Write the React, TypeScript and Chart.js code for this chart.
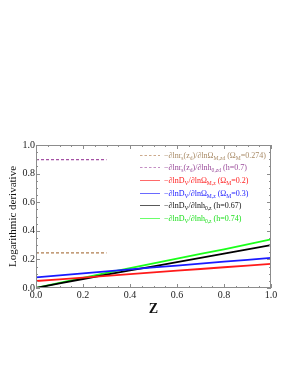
import React, { useEffect, useRef } from "react";
import { Chart, registerables } from "chart.js";

Chart.register(...registerables);

// ---- data ----
const zGrid = [0, 0.1, 0.2, 0.3, 0.4, 0.5, 0.6, 0.7, 0.8, 0.9, 1.0];
const dvOmega02 = [0.049, 0.061, 0.073, 0.085, 0.097, 0.109, 0.121, 0.133, 0.145, 0.157, 0.169];
const dvOmega03 = [0.074, 0.088, 0.102, 0.116, 0.13, 0.144, 0.157, 0.171, 0.184, 0.197, 0.21];
const dvH067 = [0.0, 0.032, 0.063, 0.093, 0.123, 0.152, 0.181, 0.21, 0.24, 0.27, 0.3];
const dvH074 = [0.0, 0.036, 0.071, 0.105, 0.139, 0.172, 0.205, 0.238, 0.27, 0.305, 0.34];
const zShort = [0, 0.3];
const rsOmega = [0.246, 0.246];
const rsH = [0.898, 0.898];

const xTicks = [0, 0.2, 0.4, 0.6, 0.8, 1.0];
const yTicks = [0, 0.2, 0.4, 0.6, 0.8, 1.0];

const COLORS = {
  rsOmega: "#b07d4f",
  rsH: "#a552a5",
  red: "#ff1a1a",
  blue: "#1a1aff",
  black: "#000000",
  green: "#1aff1a",
};
const TEXT_COLORS = ["#a88a66", "#9a4a9a", "#ff2020", "#2020ff", "#111111", "#20e020"];

type Seg = { t: string; sub?: boolean };
const legendLabels: Seg[][] = [
  [{ t: "−∂lnr" }, { t: "s", sub: true }, { t: "(z" }, { t: "d", sub: true }, { t: ")/∂lnΩ" }, { t: "M,zd", sub: true }, { t: " (Ω" }, { t: "M", sub: true }, { t: "=0.274)" }],
  [{ t: "−∂lnr" }, { t: "s", sub: true }, { t: "(z" }, { t: "d", sub: true }, { t: ")/∂lnh" }, { t: "0,zd", sub: true }, { t: " (h=0.7)" }],
  [{ t: "−∂lnD" }, { t: "V", sub: true }, { t: "/∂lnΩ" }, { t: "M,z", sub: true }, { t: " (Ω" }, { t: "M", sub: true }, { t: "=0.2)" }],
  [{ t: "−∂lnD" }, { t: "V", sub: true }, { t: "/∂lnΩ" }, { t: "M,z", sub: true }, { t: " (Ω" }, { t: "M", sub: true }, { t: "=0.3)" }],
  [{ t: "−∂lnD" }, { t: "V", sub: true }, { t: "/∂lnh" }, { t: "0,z", sub: true }, { t: " (h=0.67)" }],
  [{ t: "−∂lnD" }, { t: "V", sub: true }, { t: "/∂lnh" }, { t: "0,z", sub: true }, { t: " (h=0.74)" }],
];
const legendColors = [COLORS.rsOmega, COLORS.rsH, COLORS.red, COLORS.blue, COLORS.black, COLORS.green];
const legendDashed = [true, true, false, false, false, false];

const SERIF = "'Liberation Serif', 'DejaVu Serif', serif";

const pts = (xs: number[], ys: number[]) => xs.map((x, i) => ({ x, y: ys[i] }));

const framePlugin = {
  id: "frameTicks",
  afterDatasetsDraw(chart: any) {
    const { ctx, chartArea: a, scales } = chart;
    const xs = scales.x;
    const ys = scales.y;
    ctx.save();
    ctx.strokeStyle = "#8c8c8c";
    ctx.lineWidth = 1;
    ctx.strokeRect(a.left + 0.5, a.top + 0.5, a.right - a.left - 1, a.bottom - a.top - 1);
    ctx.beginPath();
    for (let i = 0; i <= 20; i++) {
      const v = i * 0.05;
      const major = i % 4 === 0;
      const len = major ? 4 : 2;
      const px = Math.round(xs.getPixelForValue(v)) + 0.5;
      ctx.moveTo(px, a.bottom);
      ctx.lineTo(px, a.bottom - len);
      ctx.moveTo(px, a.top);
      ctx.lineTo(px, a.top + len);
      const py = Math.round(ys.getPixelForValue(v)) + 0.5;
      ctx.moveTo(a.left, py);
      ctx.lineTo(a.left + len, py);
      ctx.moveTo(a.right, py);
      ctx.lineTo(a.right - len, py);
    }
    ctx.stroke();
    ctx.restore();
  },
};

const legendPlugin = {
  id: "richLegend",
  afterDraw(chart: any) {
    const { ctx, chartArea: a } = chart;
    const x0 = a.left + 104;
    const x1 = a.left + 124;
    const tx = a.left + 128;
    const y0 = a.top + 9.5;
    const step = 12.7;
    const size = 8;
    const subSize = 5.6;
    ctx.save();
    legendLabels.forEach((segs, i) => {
      const y = y0 + i * step;
      ctx.beginPath();
      ctx.globalAlpha = 0.65;
      ctx.strokeStyle = legendColors[i];
      ctx.lineWidth = 1;
      ctx.setLineDash(legendDashed[i] ? [2.5, 2] : []);
      ctx.moveTo(x0, Math.round(y) + 0.5);
      ctx.lineTo(x1, Math.round(y) + 0.5);
      ctx.stroke();
      ctx.setLineDash([]);
      ctx.globalAlpha = 1;
      let x = tx;
      ctx.fillStyle = TEXT_COLORS[i];
      ctx.textBaseline = "alphabetic";
      ctx.textAlign = "left";
      segs.forEach((s) => {
        ctx.font = `${s.sub ? subSize : size}px ${SERIF}`;
        const yy = y + 3 + (s.sub ? 2 : 0);
        ctx.fillText(s.t, x, yy);
        x += ctx.measureText(s.t).width;
      });
    });
    ctx.restore();
  },
};

export default function App() {
  const ref = useRef<HTMLCanvasElement>(null);
  useEffect(() => {
    if (!ref.current) return;
    const mk = (data: any[], color: string, dashed: boolean, width: number) => ({
      data,
      borderColor: color,
      backgroundColor: color,
      borderWidth: width,
      borderDash: dashed ? [3, 2] : [],
      pointRadius: 0,
      fill: false,
      tension: 0,
    });
    const chart = new Chart(ref.current, {
      type: "line",
      data: {
        datasets: [
          mk(pts(zShort, rsOmega), COLORS.rsOmega, true, 1.3),
          mk(pts(zShort, rsH), COLORS.rsH, true, 1.3),
          mk(pts(zGrid, dvOmega02), COLORS.red, false, 1.8),
          mk(pts(zGrid, dvOmega03), COLORS.blue, false, 1.8),
          mk(pts(zGrid, dvH067), COLORS.black, false, 1.8),
          mk(pts(zGrid, dvH074), COLORS.green, false, 1.8),
        ],
      },
      options: {
        animation: false,
        responsive: false,
        maintainAspectRatio: false,
        layout: { padding: { left: 0, right: 20, top: 145, bottom: 48 } },
        plugins: { legend: { display: false }, tooltip: { enabled: false } },
        scales: {
          x: {
            type: "linear",
            min: 0,
            max: 1,
            afterBuildTicks: (s: any) => {
              s.ticks = xTicks.map((v) => ({ value: v }));
            },
            afterFit: (s: any) => {
              s.height = 40;
            },
            ticks: {
              callback: (v: any) => Number(v).toFixed(1),
              font: { family: SERIF, size: 10 },
              color: "#222",
              padding: 1,
              maxRotation: 0,
            },
            grid: { display: false, drawTicks: false },
            border: { display: false },
            title: {
              display: true,
              text: "Z",
              font: { family: SERIF, size: 14, weight: "bold" },
              color: "#111",
              padding: { top: 0, bottom: 10 },
            },
          },
          y: {
            type: "linear",
            min: 0,
            max: 1,
            afterBuildTicks: (s: any) => {
              s.ticks = yTicks.map((v) => ({ value: v }));
            },
            afterFit: (s: any) => {
              s.width = 36;
            },
            ticks: {
              callback: (v: any) => Number(v).toFixed(1),
              font: { family: SERIF, size: 10 },
              color: "#222",
              padding: 1,
            },
            grid: { display: false, drawTicks: false },
            border: { display: false },
            title: {
              display: true,
              text: "Logarithmic derivative",
              font: { family: SERIF, size: 11 },
              color: "#111",
              padding: { top: 7, bottom: 0 },
            },
          },
        },
      },
      plugins: [framePlugin, legendPlugin],
    } as any);
    return () => chart.destroy();
  }, []);
  return (
    <div style={{ position: "fixed", left: 0, top: 0, width: 291, height: 376, background: "#fff" }}>
      <canvas ref={ref} width={291} height={376} style={{ width: 291, height: 376, display: "block" }} />
    </div>
  );
}
